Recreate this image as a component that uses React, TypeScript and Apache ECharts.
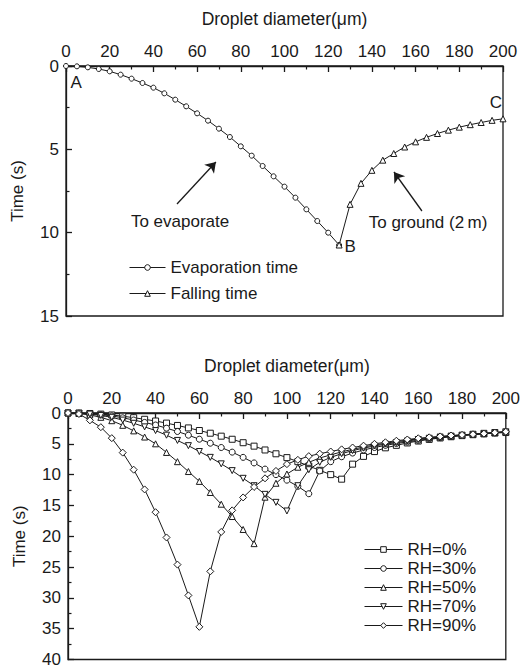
import React, { useEffect, useRef } from "react";
import * as echarts from "echarts";

// Droplet diameters (µm), 5 µm steps
const DIAM = [0,5,10,15,20,25,30,35,40,45,50,55,60,65,70,75,80,85,90,95,100,105,110,115,120,125,130,135,140,145,150,155,160,165,170,175,180,185,190,195,200];

// Top chart: evaporation time (d = 0..125) and falling time (d = 125..200)
const EVAP_TIME = [0,0.02,0.08,0.18,0.32,0.52,0.76,1.02,1.3,1.64,2.02,2.42,2.84,3.28,3.76,4.26,4.82,5.38,6.0,6.62,7.24,7.9,8.6,9.3,10.0,10.74];
const FALL_TIME = [10.74,8.3,7.04,6.26,5.65,5.25,4.86,4.55,4.28,4.05,3.85,3.67,3.52,3.39,3.26,3.17];

// Bottom chart: each RH curve over d = 0..200
const RH0 = [...EVAP_TIME, ...FALL_TIME.slice(1)];
const RH30 = [0,0.03,0.12,0.27,0.48,0.78,1.14,1.53,1.95,2.46,3.0,3.6,4.25,4.9,5.6,6.35,7.2,8.1,9.1,10.0,10.9,11.9,13.1,
  9.4,7.9,7.1,6.5,6.0,5.6,5.25,4.95,4.7,4.45,4.2,4.0,3.8,3.65,3.5,3.35,3.2,3.05];
const RH50 = [0,0.08,0.31,0.7,1.25,2.0,2.9,3.9,5.0,6.4,7.9,9.5,11.1,12.9,14.8,16.8,18.9,21.2,
  13.66,11.4,9.9,8.8,8.0,7.3,6.8,6.3,5.9,5.5,5.2,4.9,4.65,4.4,4.2,4.0,3.85,3.7,3.55,3.42,3.3,3.17,3.05];
const RH70 = [0,0.04,0.18,0.4,0.7,1.15,1.67,2.25,2.85,3.6,4.45,5.3,6.25,7.2,8.25,9.35,10.6,11.8,13.2,14.5,15.9,
  11.8,9.2,8.0,7.2,6.6,6.1,5.7,5.35,5.05,4.8,4.55,4.3,4.1,3.9,3.75,3.6,3.45,3.3,3.17,3.05];
const RH90 = [0,0.16,1.19,2.3,4.08,6.43,9.2,12.4,16.1,20.2,24.6,29.6,34.7,
  25.7,19.3,15.8,13.7,12.0,10.6,9.4,8.3,7.6,7.0,6.6,6.25,5.9,5.6,5.3,5.0,4.75,4.5,4.3,4.1,3.95,3.8,3.65,3.55,3.45,3.35,3.2,3.05];

const RH_NAMES = ["RH=0%", "RH=30%", "RH=50%", "RH=70%", "RH=90%"];
const RH_VALUES = [RH0, RH30, RH50, RH70, RH90];

const FONT = "'Liberation Sans', Arial, Helvetica, sans-serif";
const INK = "#1a1a1a";

export default function App() {
  const ref = useRef<HTMLDivElement>(null);
  useEffect(() => {
    if (!ref.current) return;
    const chart = echarts.init(ref.current, undefined, { renderer: "svg" });

    const axisCommon = {
      type: "value" as const,
      axisLine: { show: true, lineStyle: { color: INK, width: 1.3 } },
      axisTick: { show: true, inside: true, length: 6, lineStyle: { color: INK, width: 1.3 } },
      minorTick: { show: true, splitNumber: 2, length: 3.5, lineStyle: { color: INK, width: 1.2 } },
      splitLine: { show: false },
      axisLabel: { fontSize: 17, color: INK, fontFamily: FONT },
      nameTextStyle: { fontSize: 17, color: INK, fontFamily: FONT },
    };

    const xAxisFor = (gridIndex: number) => ({
      ...axisCommon,
      gridIndex,
      position: "top" as const,
      min: 0,
      max: 200,
      interval: 20,
      name: "Droplet diameter(\u03bcm)",
      nameLocation: "middle" as const,
      nameGap: 38,
      nameTextStyle: { ...axisCommon.nameTextStyle, fontSize: 17.5 },
      axisLabel: { ...axisCommon.axisLabel, margin: 6 },
    });

    const markerStyle = { color: "#fff", borderColor: INK, borderWidth: 1 };
    const lineStyle = { color: INK, width: 1 };

    const rhSymbols = ["rect", "circle", "triangle", "triangle", "diamond"];
    const rhRotate = [0, 0, 0, 180, 0];

    const bottomSeries = RH_NAMES.map((name, k) => ({
      name,
      type: "line" as const,
      xAxisIndex: 1,
      yAxisIndex: 1,
      data: DIAM.map((d, i) => [d, RH_VALUES[k][i]]),
      symbol: rhSymbols[k],
      symbolRotate: rhRotate[k],
      symbolSize: k === 4 ? 7 : 6,
      showAllSymbol: true,
      itemStyle: markerStyle,
      lineStyle,
    }));

    const textLabel = (name: string, x: number, y: number) => ({
      name,
      coord: [x, y],
      symbol: "circle",
      symbolSize: 1,
      itemStyle: { color: "transparent", borderWidth: 0 },
      label: { show: true, position: "inside", formatter: name, fontSize: 17, color: INK, fontFamily: FONT },
    });

    const legendCommon = {
      orient: "vertical" as const,
      itemHeight: 7,
      textStyle: { fontSize: 17, color: INK, fontFamily: FONT },
      itemStyle: { color: "#fff", borderColor: INK, borderWidth: 1 },
      lineStyle: { color: INK, width: 1 },
    };

    chart.setOption({
      animation: false,
      backgroundColor: "#fff",
      textStyle: { fontFamily: FONT },
      grid: [
        { left: 66, top: 66, width: 437, height: 250, show: true, borderColor: INK, borderWidth: 1.3, backgroundColor: "transparent" },
        { left: 68, top: 413, width: 439, height: 249, show: true, borderColor: INK, borderWidth: 1.3, backgroundColor: "transparent" },
      ],
      xAxis: [xAxisFor(0), xAxisFor(1)],
      yAxis: [
        {
          ...axisCommon, gridIndex: 0, inverse: true, min: 0, max: 15, interval: 5,
          name: "Time (s)", nameLocation: "middle", nameGap: 40,
          axisLabel: { ...axisCommon.axisLabel, margin: 7 },
        },
        {
          ...axisCommon, gridIndex: 1, inverse: true, min: 0, max: 40, interval: 5,
          name: "Time (s)", nameLocation: "middle", nameGap: 40,
          axisLabel: { ...axisCommon.axisLabel, margin: 7 },
        },
      ],
      legend: [
        {
          ...legendCommon,
          data: ["Evaporation time", "Falling time"],
          left: 124, top: 254, itemWidth: 36, itemGap: 9,
        },
        {
          ...legendCommon,
          data: RH_NAMES,
          left: 359, top: 536, itemWidth: 38, itemGap: 2,
        },
      ],
      series: [
        {
          name: "Evaporation time",
          type: "line",
          xAxisIndex: 0, yAxisIndex: 0,
          data: EVAP_TIME.map((t, i) => [DIAM[i], t]),
          symbol: "circle", symbolSize: 5, showAllSymbol: true,
          itemStyle: markerStyle, lineStyle,
          markLine: {
            silent: true,
            symbol: ["none", "arrow"],
            symbolSize: 10,
            itemStyle: { color: INK },
            lineStyle: { color: INK, width: 1.3, type: "solid" },
            label: { show: false },
            data: [
              [{ coord: [50.8, 8.28], itemStyle: { color: INK } }, { coord: [68.6, 5.76], itemStyle: { color: INK } }],
              [{ coord: [162.9, 8.7], itemStyle: { color: INK } }, { coord: [150.1, 6.36], itemStyle: { color: INK } }],
            ],
          },
          markPoint: {
            silent: true,
            data: [
              textLabel("To evaporate", 52.2, 9.3),
              textLabel("To ground (2\u2009m)", 165.7, 9.4),
              textLabel("A", 4.6, 1.0),
              textLabel("B", 130, 10.8),
              textLabel("C", 196.8, 2.2),
            ],
          },
        },
        {
          name: "Falling time",
          type: "line",
          xAxisIndex: 0, yAxisIndex: 0,
          data: FALL_TIME.map((t, i) => [DIAM[25 + i], t]),
          symbol: "triangle", symbolSize: 6, showAllSymbol: true,
          itemStyle: markerStyle, lineStyle,
        },
        ...bottomSeries,
      ],
    });
    return () => chart.dispose();
  }, []);

  return (
    <div
      ref={ref}
      style={{ position: "absolute", left: 0, top: 0, width: 523, height: 668, background: "#fff" }}
    />
  );
}
